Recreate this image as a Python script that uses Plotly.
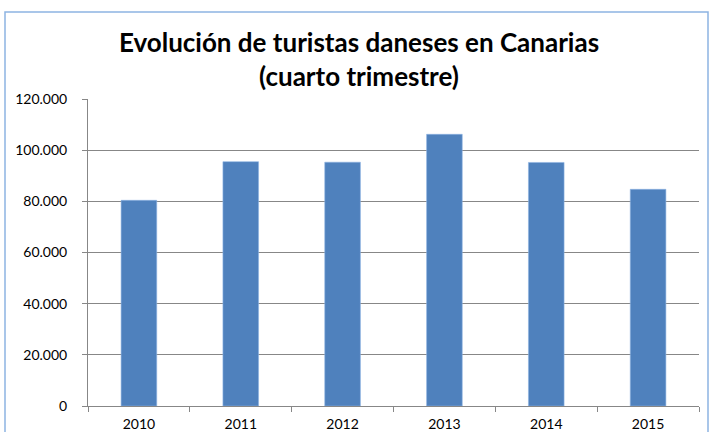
import plotly.graph_objects as go

years = ["2010", "2011", "2012", "2013", "2014", "2015"]
turistas = [80400, 95500, 95300, 106200, 95200, 84700]
y_ticks = [0, 20000, 40000, 60000, 80000, 100000, 120000]
y_tick_labels = ["0", "20.000", "40.000", "60.000", "80.000", "100.000", "120.000"]

W, H = 709, 432
ml, mr, mt, mb = 88, 10, 99, 26
pw, ph = W - ml - mr, H - mt - mb

fig = go.Figure(go.Bar(x=years, y=turistas, marker=dict(color="#4F81BD", line=dict(color="#8DB3E2", width=0.6)),
                       width=0.35))

fig.update_layout(
    width=W, height=H,
    margin=dict(l=ml, r=mr, t=mt, b=mb, autoexpand=False),
    paper_bgcolor="white", plot_bgcolor="white",
    showlegend=False,
    font=dict(family="Lato, Open Sans, sans-serif", color="#000000", size=14),
    title=dict(text="<b>Evolución de turistas daneses en Canarias<br>(cuarto trimestre)</b>",
               x=(118 + 600) / 2 / W, xanchor="center", y=1 - 52 / H, yanchor="middle",
               font=dict(size=26, family="Lato, Open Sans, sans-serif", color="#000000")),
    xaxis=dict(showline=True, linecolor="#878787", linewidth=1, ticks="outside", tickson="boundaries",
               ticklen=5, tickcolor="#878787", showgrid=False, tickfont=dict(size=14), automargin=False,
               ticklabelstandoff=5),
    yaxis=dict(range=[0, 120000], tickvals=y_ticks, ticktext=y_tick_labels, showline=True,
               linecolor="#878787", linewidth=1, ticks="outside", ticklen=5, tickcolor="#878787",
               showgrid=True, gridcolor="#878787", gridwidth=1, zeroline=False, tickfont=dict(size=14),
               automargin=False, ticklabelstandoff=12),
)

fig.add_shape(type="rect", xref="paper", yref="paper",
              x0=(5 - ml) / pw, x1=(708 - ml) / pw,
              y0=(H - mb - 445) / ph, y1=(H - mb - 12) / ph,
              line=dict(color="#8DB4E2", width=1.5), fillcolor="rgba(0,0,0,0)", layer="below")

fig.write_html("out.html", config={"displayModeBar": False},
               post_script="document.body.style.margin='0px';document.body.style.overflow='hidden';")
